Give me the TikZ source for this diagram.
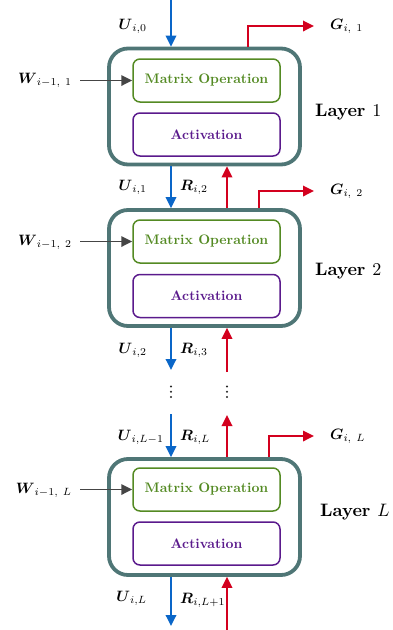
\documentclass[tikz,border=0pt]{standalone}
\usepackage{amsmath}
\usetikzlibrary{arrows.meta,calc}
\definecolor{ublue}{HTML}{0A66C8}
\definecolor{rred}{HTML}{D3001E}
\definecolor{outerc}{HTML}{4F7676}
\definecolor{greenc}{HTML}{548A23}
\definecolor{purplec}{HTML}{5A1A8C}
\definecolor{grayc}{HTML}{454545}
\newcommand{\mlab}[1]{\scalebox{1.5}{$#1$}}
\newcommand{\boxtxt}[1]{\scalebox{1.38}{\bfseries #1}}
\newcommand{\laytxt}[1]{\scalebox{1.8}{\bfseries #1}}
\tikzset{
  outerbox/.style={draw=outerc, line width=3.8pt, rounded corners=19pt, minimum width=191pt, minimum height=116pt},
  matbox/.style={draw=greenc, line width=1.5pt, rounded corners=7pt, minimum width=147pt, minimum height=43pt, text=greenc},
  actbox/.style={draw=purplec, line width=1.5pt, rounded corners=7pt, minimum width=147pt, minimum height=43pt, text=purplec},
  tip/.style={-{Triangle[length=11pt,width=10.5pt]}},
  barrow/.style={tip, draw=ublue, line width=1.8pt},
  rarrow/.style={tip, draw=rred, line width=1.8pt},
  garrow/.style={tip, draw=grayc, line width=1.8pt},
  lbl/.style={inner sep=0pt},
  laylbl/.style={inner sep=0pt, anchor=west},
  dotc/.style={fill=black!85},
}
\begin{document}
\begin{tikzpicture}[x=1pt,y=-1pt]
\useasboundingbox (0,0) rectangle (392,630);
% layers
\node[outerbox] (L1) at (204.5,106.5) {};
\node[matbox] (M1) at (206.5,80.5) {\boxtxt{Matrix Operation}};
\node[actbox] (A1) at (206.5,134.5) {\boxtxt{Activation}};
\node[outerbox] (L2) at (204.5,268) {};
\node[matbox] (M2) at (206.5,241.5) {\boxtxt{Matrix Operation}};
\node[actbox] (A2) at (206.5,296) {\boxtxt{Activation}};
\node[outerbox] (L3) at (204.5,517) {};
\node[matbox] (M3) at (206.5,489.5) {\boxtxt{Matrix Operation}};
\node[actbox] (A3) at (206.5,543.5) {\boxtxt{Activation}};
% layer labels
\node[laylbl] (T1) at (315,112) {\laytxt{Layer $1$}};
\node[laylbl] (T2) at (315,271) {\laytxt{Layer $2$}};
\node[laylbl] (T3) at (320,512) {\laytxt{Layer $L$}};
% W inputs
\coordinate (w1) at (80,80.5);
\coordinate (w2) at (80,241.5);
\coordinate (w3) at (80,489.5);
\draw[garrow] (w1) -- (M1.west);
\draw[garrow] (w2) -- (M2.west);
\draw[garrow] (w3) -- (M3.west);
\node[lbl, anchor=east] (W1) at (72,80) {\mlab{\boldsymbol{W}_{i-1,\ 1}}};
\node[lbl, anchor=east] (W2) at (72,242) {\mlab{\boldsymbol{W}_{i-1,\ 2}}};
\node[lbl, anchor=east] (W3) at (72,490) {\mlab{\boldsymbol{W}_{i-1,\ L}}};
% blue U arrows
\coordinate (b0) at (171,0);
\coordinate (d1) at (171,370);
\coordinate (d2) at (171,414);
\coordinate (b4) at (171,626);
\draw[barrow] (b0) -- (b0 |- L1.north);
\draw[barrow] (b0 |- L1.south) -- (b0 |- L2.north);
\draw[barrow] (b0 |- L2.south) -- (d1);
\draw[barrow] (d2) -- (b0 |- L3.north);
\draw[barrow] (b0 |- L3.south) -- (b4);
% red R arrows
\coordinate (r0) at (227,0);
\coordinate (e1) at (227,372);
\coordinate (e2) at (227,415);
\coordinate (r4) at (227,630);
\draw[rarrow] (r0 |- L2.north) -- (r0 |- L1.south);
\draw[rarrow] (e1) -- (r0 |- L2.south);
\draw[rarrow] (r0 |- L3.north) -- (e2);
\draw[rarrow] (r4) -- (r0 |- L3.south);
% dots
\foreach \yy in {386.5,391.7,396.9}{
  \fill[dotc] (171,\yy) circle (1.1pt);
  \fill[dotc] (227,\yy) circle (1.1pt);
}
% G outputs
\coordinate (g1) at (248,0);
\coordinate (g2) at (259,0);
\coordinate (g3) at (269,0);
\coordinate (h1) at (314,26);
\coordinate (h2) at (314,191);
\coordinate (h3) at (314,436);
\draw[rarrow] (g1 |- L1.north) |- (h1);
\draw[rarrow] (g2 |- L2.north) |- (h2);
\draw[rarrow] (g3 |- L3.north) |- (h3);
\node[lbl, anchor=west] (G1) at (330,26) {\mlab{\boldsymbol{G}_{i,\ 1}}};
\node[lbl, anchor=west] (G2) at (330,191) {\mlab{\boldsymbol{G}_{i,\ 2}}};
\node[lbl, anchor=west] (G3) at (330,436) {\mlab{\boldsymbol{G}_{i,\ L}}};
% U labels
\node[lbl, anchor=east] (U0) at (147,26) {\mlab{\boldsymbol{U}_{i,0}}};
\node[lbl, anchor=east] (U1) at (147,187) {\mlab{\boldsymbol{U}_{i,1}}};
\node[lbl, anchor=east] (U2) at (147,350) {\mlab{\boldsymbol{U}_{i,2}}};
\node[lbl, anchor=east] (U3) at (164,437) {\mlab{\boldsymbol{U}_{i,L-1}}};
\node[lbl, anchor=east] (U4) at (147,598) {\mlab{\boldsymbol{U}_{i,L}}};
% R labels
\node[lbl, anchor=west] (R2) at (180,187) {\mlab{\boldsymbol{R}_{i,2}}};
\node[lbl, anchor=west] (R3) at (180,350) {\mlab{\boldsymbol{R}_{i,3}}};
\node[lbl, anchor=west] (RL) at (180,437) {\mlab{\boldsymbol{R}_{i,L}}};
\node[lbl, anchor=west] (RL1) at (180,600) {\mlab{\boldsymbol{R}_{i,L+1}}};
\end{tikzpicture}
\end{document}
